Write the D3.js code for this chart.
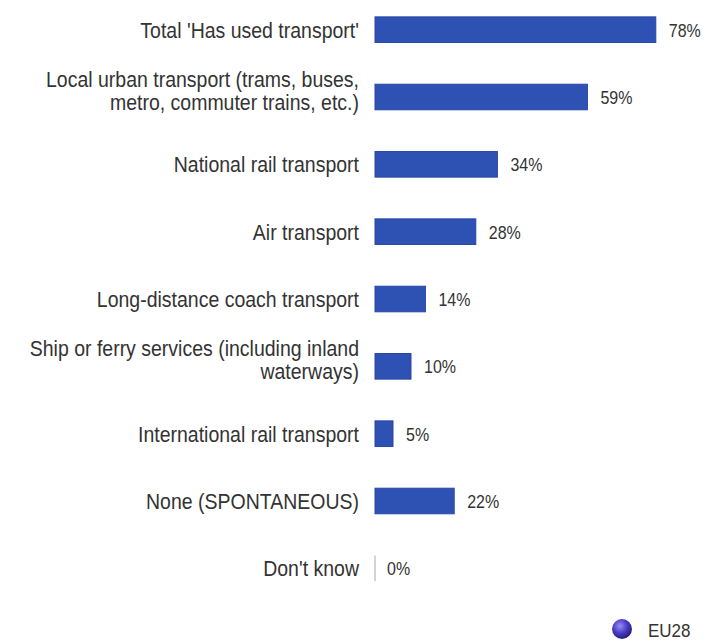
<!DOCTYPE html>
<html lang="en">
<head>
  <meta charset="UTF-8">
  <title>Transport used</title>
  <style>
    body { margin: 0; background: #fff; }
    text { font-family: "Liberation Sans", Arial, sans-serif; }
  </style>
</head>
<body>
  <svg width="703" height="640"></svg>

  <script src="https://d3js.org/d3.v7.min.js"></script>
  <script>
    // data
    const categories = [
      ["Total 'Has used transport'"],
      ["Local urban transport (trams, buses,", "metro, commuter trains, etc.)"],
      ["National rail transport"],
      ["Air transport"],
      ["Long-distance coach transport"],
      ["Ship or ferry services (including inland", "waterways)"],
      ["International rail transport"],
      ["None (SPONTANEOUS)"],
      ["Don't know"]
    ];
    const values = [78, 59, 34, 28, 14, 10, 5, 22, 0];
    const seriesName = "EU28";

    const svg = d3.select("svg");
    const x0 = 375;
    const stretch = 1.1; // text in the original looks a bit tall and narrow

    const x = d3.scaleLinear()
      .domain([0, 100])
      .range([x0, x0 + 360]);

    const y = d3.scaleBand()
      .domain(d3.range(values.length))
      .range([-4, 602])
      .paddingInner(0.62)
      .paddingOuter(0.31);

    // gradient for the legend ball
    const defs = svg.append("defs");
    const grad = defs.append("radialGradient")
      .attr("id", "ball")
      .attr("cx", "40%").attr("cy", "35%").attr("r", "65%");
    grad.append("stop").attr("offset", "0%").attr("stop-color", "#9a8cf0");
    grad.append("stop").attr("offset", "55%").attr("stop-color", "#4a3cc8");
    grad.append("stop").attr("offset", "100%").attr("stop-color", "#24207a");

    const rows = svg.append("g")
      .selectAll("g")
      .data(values)
      .join("g")
      .attr("transform", (d, i) => `translate(0,${y(i)})`);

    const bh = y.bandwidth();
    const mid = bh / 2;

    // bars
    rows.filter(d => d > 0).append("rect")
      .attr("x", x(0))
      .attr("y", 0)
      .attr("width", d => x(d) - x(0))
      .attr("height", bh)
      .attr("fill", "#2e52b4")
      .attr("stroke", "#2846a6")
      .attr("stroke-width", 1);

    // zero marker
    rows.filter(d => d === 0).append("line")
      .attr("x1", x(0)).attr("x2", x(0))
      .attr("y1", 0).attr("y2", bh)
      .attr("stroke", "#aaa")
      .attr("stroke-width", 1);

    // value labels
    rows.append("g")
      .attr("transform", d => `translate(${x(d) + (d > 0 ? 13 : 12)},${mid + 7}) scale(1,${stretch + 0.1})`)
      .append("text")
      .attr("font-size", 16)
      .attr("fill", "#333")
      .text(d => d + "%");

    // category labels
    rows.each(function(d, i) {
      const lines = categories[i];
      const offs = lines.length === 1 ? [8] : [-10.5, 13];
      lines.forEach((l, j) => {
        d3.select(this).append("g")
          .attr("transform", `translate(359,${mid + offs[j]}) scale(1,${stretch})`)
          .append("text")
          .attr("text-anchor", "end")
          .attr("font-size", 19.5)
          .attr("fill", "#333")
          .text(l);
      });
    });

    // legend
    const lg = svg.append("g").attr("transform", "translate(622,629)");
    lg.append("circle")
      .attr("r", 10)
      .attr("fill", "url(#ball)");
    lg.append("g")
      .attr("transform", `translate(26,8) scale(1,${stretch})`)
      .append("text")
      .attr("font-size", 17)
      .attr("fill", "#333")
      .text(seriesName);
  </script>
</body>
</html>
